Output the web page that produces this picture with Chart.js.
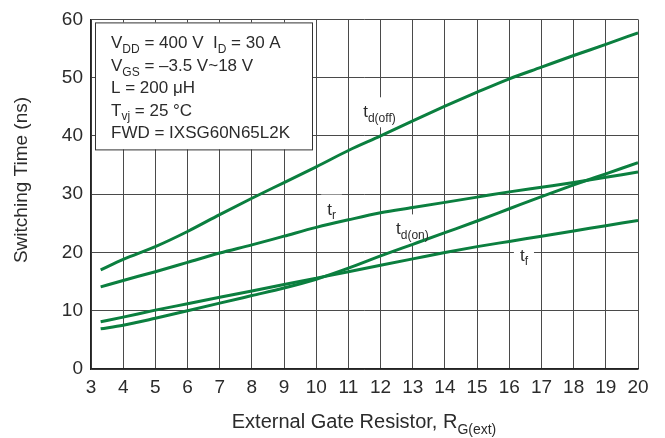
<!DOCTYPE html>
<html>
<head>
<meta charset="utf-8">
<script src="https://cdn.jsdelivr.net/npm/chart.js@4.4.1/dist/chart.umd.min.js"></script>
<style>
  html, body { margin: 0; padding: 0; background: #fff; }
  #wrap { width: 665px; height: 438px; }
</style>
</head>
<body>
<div id="wrap"><canvas id="chart"></canvas></div>
<script>
// gate resistor values (ohm)
const rgValues = [3.3, 4, 5, 6, 7, 8, 9, 10, 11, 12, 13, 14, 15, 16, 17, 18, 19, 20];

// switching times (ns)
const tdOff = [17.0, 18.8, 21.0, 23.6, 26.5, 29.3, 32.0, 34.7, 37.5, 40.0, 42.6, 45.1, 47.5, 49.8, 51.8, 53.8, 55.7, 57.7];
const tRise = [14.1, 15.2, 16.7, 18.3, 19.9, 21.3, 22.8, 24.3, 25.6, 26.8, 27.7, 28.6, 29.5, 30.4, 31.2, 32.0, 32.9, 33.8];
const tdOn  = [6.9, 7.5, 8.7, 10.0, 11.3, 12.6, 13.9, 15.4, 17.3, 19.4, 21.4, 23.4, 25.4, 27.5, 29.6, 31.6, 33.5, 35.4];
const tFall = [8.1, 8.9, 10.1, 11.2, 12.3, 13.4, 14.5, 15.6, 16.7, 17.8, 18.9, 20.0, 21.0, 21.9, 22.8, 23.7, 24.6, 25.5];

const xTicks = [3, 4, 5, 6, 7, 8, 9, 10, 11, 12, 13, 14, 15, 16, 17, 18, 19, 20];
const yTicks = [0, 10, 20, 30, 40, 50, 60];

// curve labels: [text parts, R, ns]
const curveLabels = [
    [[['t', false], ['d(off)', true]], 11.46, 43.2],
    [[['t', false], ['r', true]], 10.34, 26.5],
    [[['t', false], ['d(on)', true]], 12.48, 23.1],
    [[['t', false], ['f', true]], 16.33, 18.6]
];

// test conditions box
const conditions = [
    [['V', false], ['DD', true], [' = 400 V  I', false], ['D', true], [' = 30 A', false]],
    [['V', false], ['GS', true], [' = \u20133.5 V~18 V', false]],
    [['L = 200 \u03bcH', false]],
    [['T', false], ['vj', true], [' = 25 \u00b0C', false]],
    [['FWD = IXSG60N65L2K', false]]
];

const FONT = '"Liberation Sans", Arial, sans-serif';
const TEXT = '#2b2b2b';
const GREEN = '#0b7f3f';

function richWidth(ctx, parts, size) {
    let w = 0;
    parts.forEach(([t, sub]) => {
        ctx.font = (sub ? Math.round(size * 0.68) : size) + 'px ' + FONT;
        w += ctx.measureText(t).width;
    });
    return w;
}

function drawRich(ctx, x, y, parts, size) {
    ctx.textBaseline = 'alphabetic';
    ctx.textAlign = 'left';
    parts.forEach(([t, sub]) => {
        ctx.font = (sub ? Math.round(size * 0.68) : size) + 'px ' + FONT;
        ctx.fillText(t, x, sub ? y + size * 0.28 : y);
        x += ctx.measureText(t).width;
    });
}

const overlay = {
    id: 'overlay',
    beforeDatasetsDraw(chart) {
        // white patches behind curve labels cut the grid, not the curves
        const ctx = chart.ctx;
        ctx.save();
        ctx.fillStyle = '#fff';
        curveLabels.forEach(([parts, r, v]) => {
            const px = chart.scales.x.getPixelForValue(r);
            const py = chart.scales.y.getPixelForValue(v);
            const w = richWidth(ctx, parts, 17);
            ctx.fillRect(px - 6, py - 20, w + 12, 30);
        });
        ctx.restore();
    },
    afterDatasetsDraw(chart) {
        const ctx = chart.ctx;
        const xs = chart.scales.x, ys = chart.scales.y;
        const area = chart.chartArea;
        ctx.save();
        ctx.fillStyle = TEXT;

        curveLabels.forEach(([parts, r, v]) => {
            drawRich(ctx, xs.getPixelForValue(r), ys.getPixelForValue(v), parts, 17);
        });

        // conditions box
        const bx = area.left + 4, by = area.top + 3;
        ctx.fillStyle = '#fff';
        ctx.fillRect(bx, by, 217, 127);
        ctx.strokeStyle = '#333';
        ctx.lineWidth = 1;
        ctx.strokeRect(bx + 0.5, by + 0.5, 217, 127);
        ctx.fillStyle = TEXT;
        conditions.forEach((parts, i) => {
            drawRich(ctx, bx + 16, by + 26 + i * 22.4, parts, 17);
        });

        // axis titles
        ctx.font = '19px ' + FONT;
        ctx.textAlign = 'center';
        ctx.textBaseline = 'middle';
        ctx.save();
        ctx.translate(22, 180);
        ctx.rotate(-Math.PI / 2);
        ctx.fillText('Switching Time (ns)', 0, 0);
        ctx.restore();

        const xt = [['External Gate Resistor, R', false], ['G(ext)', true]];
        const tw = richWidth(ctx, xt, 20);
        drawRich(ctx, 364 - tw / 2, 428, xt, 20);
        ctx.restore();
    }
};

const makeSeries = vals => vals.map((v, i) => ({ x: rgValues[i], y: v }));

new Chart(document.getElementById('chart'), {
    type: 'line',
    data: {
        datasets: [tdOff, tRise, tdOn, tFall].map(vals => ({
            data: makeSeries(vals),
            borderColor: GREEN,
            borderWidth: 3,
            pointRadius: 0,
            cubicInterpolationMode: 'monotone',
            fill: false
        }))
    },
    options: {
        responsive: true,
        maintainAspectRatio: false,
        animation: false,
        events: [],
        layout: { padding: { top: 14, right: 27, left: 0, bottom: 0 } },
        plugins: { legend: { display: false }, tooltip: { enabled: false } },
        scales: {
            x: {
                type: 'linear',
                min: 3,
                max: 20,
                afterBuildTicks: scale => { scale.ticks = xTicks.map(v => ({ value: v })); },
                afterFit: scale => { scale.height = 69; },
                ticks: { font: { family: FONT, size: 19 }, color: TEXT, padding: 7, maxRotation: 0 },
                grid: { color: '#4a4a4a', lineWidth: 1, drawTicks: false },
                border: { color: '#222', width: 1.5 }
            },
            y: {
                min: 0,
                max: 60,
                afterBuildTicks: scale => { scale.ticks = yTicks.map(v => ({ value: v })); },
                afterFit: scale => { scale.width = 91; },
                ticks: { font: { family: FONT, size: 19 }, color: TEXT, padding: 8 },
                grid: { color: '#4a4a4a', lineWidth: 1, drawTicks: false },
                border: { color: '#222', width: 1.5 }
            }
        }
    },
    plugins: [overlay]
});
</script>
</body>
</html>
